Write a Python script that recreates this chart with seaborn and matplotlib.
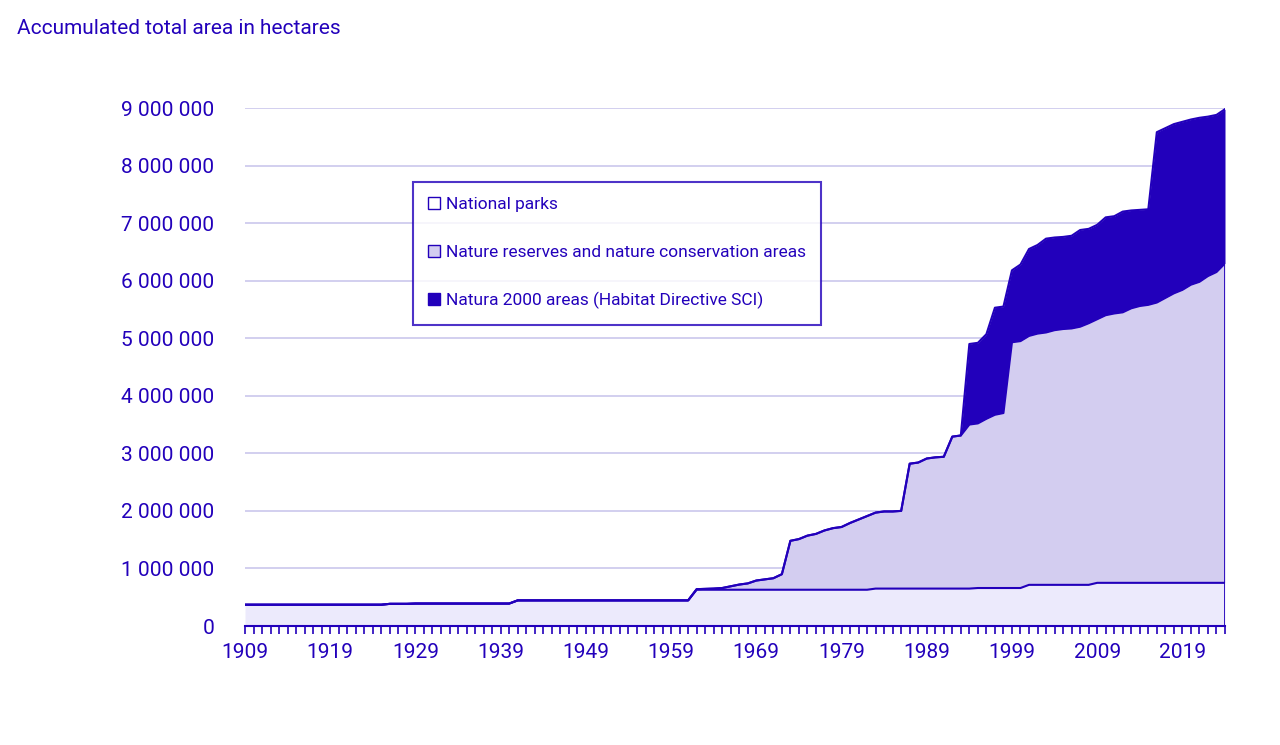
import matplotlib
matplotlib.use('Agg')
import matplotlib.pyplot as plt
import seaborn as sns
import numpy as np
import pandas as pd
from matplotlib.lines import Line2D
import matplotlib.ticker as ticker

years = list(range(1909, 2025))

# accumulated levels (hectares)
national_parks = ([370000] * 17 + [385000] * 3 + [390000] * 12 + [445000] * 21 +
                  [630000] * 21 + [650000] * 12 + [660000] * 6 + [715000] * 8 + [750000] * 16)

reserves_from_1962 = [640000, 645000, 650000, 660000, 690000, 720000, 740000, 790000, 810000, 830000,
                      900000, 1480000, 1510000, 1570000, 1600000, 1660000, 1700000, 1720000, 1790000, 1850000,
                      1910000, 1970000, 1990000, 1990000, 2000000, 2820000, 2840000, 2910000, 2930000, 2940000,
                      3290000, 3310000, 3500000, 3520000, 3600000, 3670000, 3700000, 4930000, 4950000, 5040000,
                      5080000, 5100000, 5140000, 5160000, 5170000, 5200000, 5260000, 5330000, 5400000, 5430000,
                      5450000, 5520000, 5560000, 5580000, 5620000, 5700000, 5780000, 5840000, 5930000, 5980000,
                      6080000, 6150000, 6300000]
reserves_level = national_parks[:53] + reserves_from_1962

natura_from_1994 = [4900000, 4920000, 5070000, 5530000, 5550000, 6180000, 6280000, 6550000, 6620000, 6730000,
                    6750000, 6760000, 6780000, 6880000, 6900000, 6970000, 7100000, 7120000, 7200000, 7220000,
                    7230000, 7240000, 8580000, 8650000, 8720000, 8760000, 8800000, 8830000, 8850000, 8880000,
                    8980000]
natura_level = reserves_level[:85] + natura_from_1994

labels = ['National parks', 'Nature reserves and nature conservation areas',
          'Natura 2000 areas (Habitat Directive SCI)']

DARK = '#2200BB'
MID = '#D3CDF0'
LIGHT = '#ECEAFC'
GRID = '#CFCBEE'

sns.set_theme(style='white', font='Roboto')
fig = plt.figure(figsize=(12.8, 7.45), dpi=100)
ax = fig.add_axes([245 / 1280, 1 - 626 / 745, 980 / 1280, 518 / 745])

df = pd.DataFrame({'year': years, 'parks': national_parks, 'reserves': reserves_level, 'natura': natura_level})

ax.fill_between(df['year'], df['reserves'], df['natura'], color=DARK, lw=0)
ax.fill_between(df['year'], df['parks'], df['reserves'], color=MID, lw=0)
ax.fill_between(df['year'], 0, df['parks'], color=LIGHT, lw=0)
for col in ['natura', 'reserves', 'parks']:
    sns.lineplot(data=df, x='year', y=col, ax=ax, color=DARK, lw=1.5)
ax.plot([years[-1], years[-1]], [0, natura_level[-1]], color=DARK, lw=2)

ax.set_xlim(1909, 2024)
ax.set_ylim(0, 9000000)
ax.set_xlabel('')
ax.set_ylabel('')
ax.set_yticks(np.arange(0, 9000001, 1000000))
ax.yaxis.set_major_formatter(ticker.FuncFormatter(lambda v, p: f'{int(v):,}'.replace(',', ' ')))
ax.yaxis.grid(True, color=GRID, lw=1.3)
ax.set_axisbelow(True)
ax.set_xticks(list(range(1909, 2025, 10)))
ax.set_xticks(years, minor=True)
ax.tick_params(axis='x', which='both', direction='out', length=6, width=1.2, color=DARK, bottom=True)
ax.tick_params(axis='x', labelsize=15, labelcolor=DARK, pad=6)
ax.tick_params(axis='y', length=0, labelsize=15, labelcolor=DARK, pad=22)
for s in ['top', 'right', 'left']:
    ax.spines[s].set_visible(False)
ax.spines['bottom'].set_color(DARK)
ax.spines['bottom'].set_linewidth(1.5)

handles = [Line2D([], [], ls='None', marker='s', markersize=8, markerfacecolor=c,
                  markeredgecolor=DARK, markeredgewidth=1) for c in ['white', MID, DARK]]
lgd = ax.legend(handles, labels, loc='upper left', bbox_to_anchor=(404 / 1280, 1 - 173 / 745),
                bbox_transform=fig.transFigure, frameon=True, fancybox=False, edgecolor=DARK,
                fontsize=12.5, labelcolor=DARK, handlelength=0.6, handletextpad=0.4,
                labelspacing=1.85, borderpad=0.9)
lgd.get_frame().set_linewidth(1.5)

fig.text(17 / 1280, 1 - 28 / 745, 'Accumulated total area in hectares', color=DARK, fontsize=15, va='center')

fig.savefig('out.png', dpi=100)
